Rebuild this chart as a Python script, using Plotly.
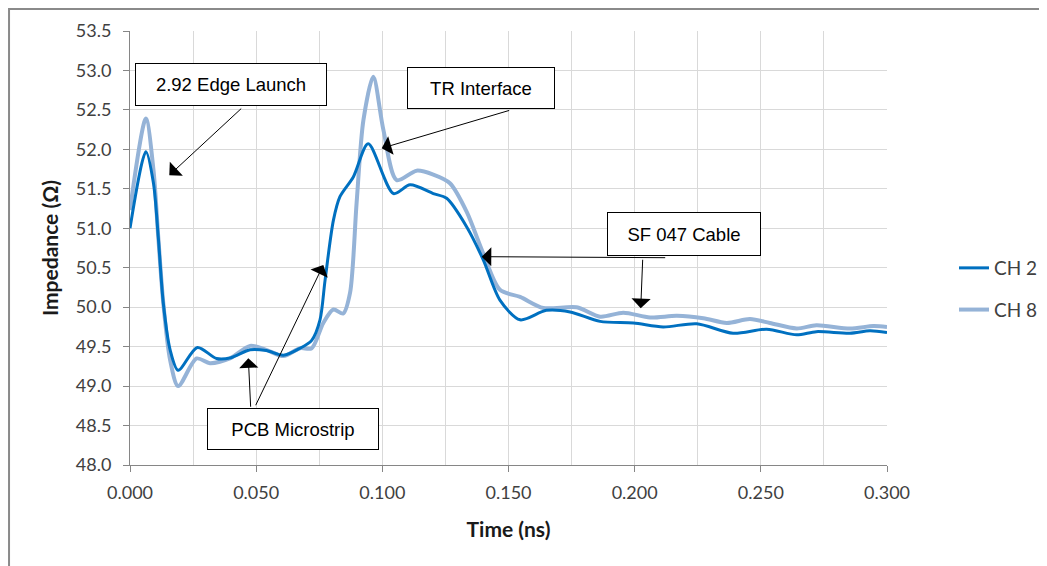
import plotly.graph_objects as go

# ---- data ----
t_ch2 = [0.000, 0.0063, 0.0093, 0.0112, 0.0132, 0.0159, 0.0191, 0.0267, 0.0343, 0.040, 0.0476,
         0.054, 0.0608, 0.0674, 0.072, 0.0753, 0.0773, 0.0806, 0.0832, 0.0885, 0.0944,
         0.1044, 0.111, 0.1202, 0.1255, 0.1334, 0.140, 0.1466, 0.1546, 0.165, 0.1744,
         0.1863, 0.1995, 0.2113, 0.2246, 0.239, 0.2523, 0.2642, 0.272, 0.2853, 0.2932, 0.300]
z_ch2 = [51.00, 51.97, 51.57, 50.89, 50.05, 49.46, 49.20, 49.49, 49.35, 49.36, 49.46,
         49.45, 49.39, 49.48, 49.58, 49.84, 50.34, 51.10, 51.40, 51.65, 52.07,
         51.44, 51.55, 51.44, 51.38, 51.02, 50.60, 50.09, 49.84, 49.96, 49.94,
         49.82, 49.80, 49.75, 49.79, 49.67, 49.72, 49.65, 49.69, 49.67, 49.70, 49.68]

t_ch8 = [0.000, 0.0063, 0.0093, 0.0112, 0.0132, 0.0159, 0.0191, 0.0264, 0.0317, 0.0396, 0.0476,
         0.054, 0.0608, 0.0674, 0.072, 0.0766, 0.0806, 0.0845, 0.0872, 0.0898, 0.0925,
         0.0964, 0.1004, 0.1057, 0.1136, 0.1202, 0.1268, 0.1334, 0.140, 0.1466, 0.1546,
         0.1638, 0.177, 0.1863, 0.1955, 0.2061, 0.2167, 0.2272, 0.2365, 0.2457, 0.2536,
         0.2642, 0.272, 0.2853, 0.2946, 0.300]
z_ch8 = [51.23, 52.39, 51.74, 50.89, 50.05, 49.33, 49.00, 49.35, 49.29, 49.35, 49.51,
         49.46, 49.38, 49.48, 49.48, 49.80, 49.97, 49.92, 50.18, 51.32, 52.37,
         52.92, 52.25, 51.61, 51.73, 51.68, 51.57, 51.21, 50.68, 50.22, 50.13,
         49.99, 50.00, 49.88, 49.93, 49.87, 49.89, 49.86, 49.80, 49.85, 49.80,
         49.73, 49.77, 49.73, 49.76, 49.75]

series_names = ["CH 2", "CH 8"]
series_colors = ["#0070C0", "#95B3D7"]

# callout boxes: label, centre (data coords), size in px
box_labels = ["2.92 Edge Launch", "TR Interface", "SF 047 Cable", "PCB Microstrip"]
box_x = [0.0400, 0.1391, 0.2195, 0.0644]
box_y = [52.82, 52.78, 50.925, 48.454]
box_w = [192, 148, 154, 172]
box_h = [43, 42, 44, 42]
# arrows: tail -> head (data coords)
arrow_tail_x = [0.04466, 0.15087, 0.2127, 0.2032, 0.04784, 0.04954]
arrow_tail_y = [52.534, 52.499, 50.627, 50.620, 48.719, 48.739]
arrow_head_x = [0.01557, 0.09975, 0.13938, 0.2024, 0.04689, 0.07661]
arrow_head_y = [51.672, 52.014, 50.640, 49.986, 49.352, 50.535]

FONT = "Lato, Open Sans, sans-serif"
BOXFONT = "Liberation Sans, Arial, sans-serif"

fig = go.Figure()
# CH 8 drawn first so CH 2 sits on top; legend order set by legendrank
for name, t, z, c, w, rank in zip(series_names[::-1], [t_ch8, t_ch2], [z_ch8, z_ch2],
                                  series_colors[::-1], [4, 3], [2, 1]):
    fig.add_trace(go.Scatter(x=t, y=z, mode="lines", name=name, legendgroup=name,
                             legendrank=rank,
                             line=dict(color=c, width=w, shape="spline", smoothing=0.8)))

for txt, bx, by, bw, bh in zip(box_labels, box_x, box_y, box_w, box_h):
    fig.add_annotation(x=bx, y=by, xref="x", yref="y", text=txt, showarrow=False,
                       font=dict(family=BOXFONT, size=18.5, color="black"),
                       width=bw - 2, height=bh - 2, align="center", valign="middle",
                       bgcolor="white", bordercolor="black", borderwidth=1, borderpad=0)

for tx, ty, hx, hy in zip(arrow_tail_x, arrow_tail_y, arrow_head_x, arrow_head_y):
    fig.add_annotation(x=hx, y=hy, ax=tx, ay=ty, xref="x", yref="y", axref="x", ayref="y",
                       text="", showarrow=True, arrowhead=1, arrowsize=3.2, arrowwidth=1,
                       arrowcolor="black", standoff=0)

fig.update_layout(
    width=1047, height=566,
    margin=dict(l=122, r=168, t=23, b=109, autoexpand=False),
    paper_bgcolor="white", plot_bgcolor="white",
    font=dict(family=FONT, size=18, color="#404040"),
    showlegend=True,
    legend=dict(x=1.0885, y=0.4055, xanchor="left", yanchor="middle", tracegroupgap=14,
                traceorder="grouped",
                font=dict(family=FONT, size=19, color="#404040"),
                bgcolor="rgba(0,0,0,0)"),
    xaxis=dict(range=[0, 0.3], dtick=0.05, tick0=0, tickformat=".3f",
               showgrid=True, gridcolor="#D9D9D9", gridwidth=1,
               minor=dict(dtick=0.025, showgrid=True, gridcolor="#D9D9D9", gridwidth=1),
               ticks="outside", ticklen=6, tickcolor="#868686", ticklabelstandoff=5,
               showline=True, linecolor="#868686", linewidth=1, zeroline=False,
               title=dict(text="<b>Time (ns)</b>", font=dict(family=FONT, size=21, color="#1a1a1a"),
                          standoff=20)),
    yaxis=dict(range=[48, 53.5], dtick=0.5, tick0=48, tickformat=".1f",
               showgrid=True, gridcolor="#D9D9D9", gridwidth=1,
               ticks="outside", ticklen=6, tickcolor="#868686", ticklabelstandoff=8,
               showline=True, linecolor="#868686", linewidth=1, zeroline=False,
               title=dict(text="<b>Impedance (Ω)</b>", font=dict(family=FONT, size=21, color="#1a1a1a"),
                          standoff=11)),
)

# outer chart-area border (top and left edges visible in reference)
fig.add_shape(type="rect", xref="paper", yref="paper", x0=-0.1598, x1=1.4, y0=-0.5, y1=1.0507,
              line=dict(color="#8A8A8A", width=2), fillcolor="rgba(0,0,0,0)", layer="below")

fig.write_html("out.html")
